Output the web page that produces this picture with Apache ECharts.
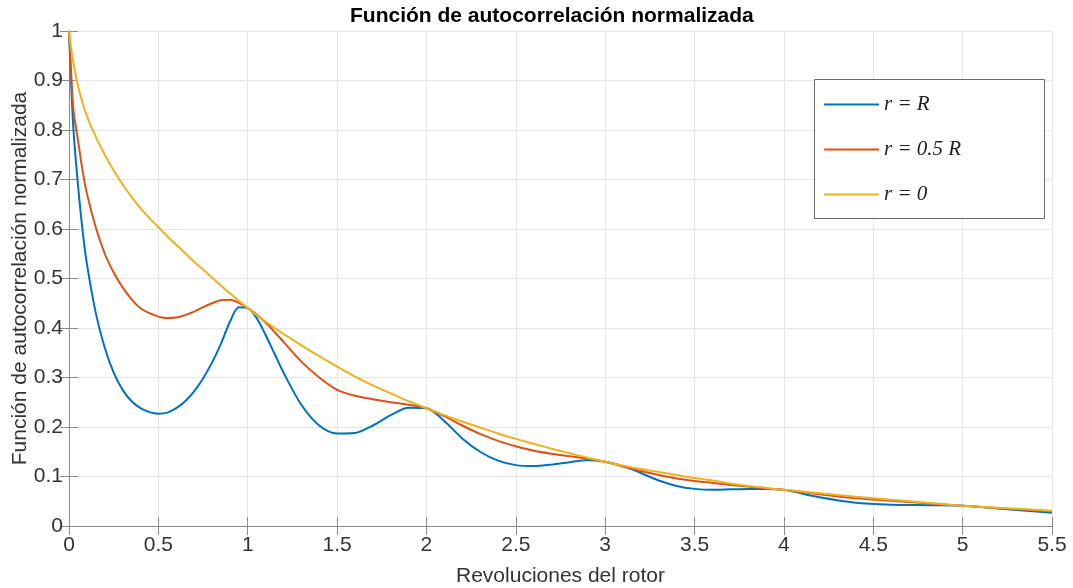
<!DOCTYPE html>
<html>
<head>
<meta charset="utf-8">
<title>Función de autocorrelación normalizada</title>
<script src="https://cdn.jsdelivr.net/npm/echarts@6/dist/echarts.min.js"></script>
<style>
  html, body { margin: 0; padding: 0; background: #fff; }
  #chart { width: 1073px; height: 588px; }
</style>
</head>
<body>
<div id="chart"></div>
<script>
// Revolutions of the rotor (shared abscissa for all curves)
const revs = [0, 0.01, 0.025, 0.05, 0.075, 0.1, 0.15, 0.2, 0.25, 0.3, 0.35, 0.4, 0.45, 0.5,
  0.55, 0.6, 0.65, 0.7, 0.75, 0.8, 0.85, 0.9, 0.95, 1.0, 1.05, 1.1, 1.15, 1.2, 1.3, 1.4,
  1.5, 1.6, 1.7, 1.8, 1.9, 2.0, 2.1, 2.2, 2.3, 2.4, 2.5, 2.6, 2.7, 2.8, 2.9, 3.0, 3.1,
  3.2, 3.3, 3.4, 3.5, 3.6, 3.7, 3.8, 3.9, 4.0, 4.2, 4.4, 4.6, 4.8, 5.0, 5.25, 5.5];

// r = R
const acfTip = [1, 0.91, 0.8, 0.69, 0.6, 0.53, 0.43, 0.36, 0.31, 0.275, 0.252, 0.238, 0.23, 0.227,
  0.229, 0.238, 0.252, 0.272, 0.298, 0.33, 0.368, 0.412, 0.442, 0.44, 0.42, 0.386, 0.348, 0.31, 0.245, 0.203,
  0.187, 0.188, 0.203, 0.224, 0.239, 0.238, 0.212, 0.177, 0.15, 0.132, 0.123, 0.121, 0.124, 0.129, 0.133, 0.13, 0.121,
  0.107, 0.092, 0.081, 0.075, 0.073, 0.074, 0.075, 0.075, 0.073, 0.058, 0.047, 0.043, 0.042, 0.041, 0.034, 0.027];

// r = 0.5 R
const acfMid = [1, 0.93, 0.84, 0.78, 0.72, 0.672, 0.603, 0.55, 0.512, 0.482, 0.458, 0.44, 0.43, 0.423,
  0.42, 0.421, 0.426, 0.433, 0.442, 0.45, 0.456, 0.457, 0.451, 0.44, 0.427, 0.411, 0.392, 0.372, 0.332, 0.3,
  0.275, 0.263, 0.256, 0.25, 0.245, 0.238, 0.222, 0.203, 0.186, 0.172, 0.161, 0.152, 0.146, 0.141, 0.136, 0.13, 0.12,
  0.111, 0.103, 0.096, 0.091, 0.087, 0.083, 0.08, 0.076, 0.073, 0.064, 0.056, 0.051, 0.046, 0.041, 0.035, 0.03];

// r = 0
const acfHub = [1, 0.97, 0.935, 0.89, 0.856, 0.828, 0.786, 0.75, 0.718, 0.69, 0.665, 0.642, 0.622, 0.604,
  0.585, 0.568, 0.551, 0.534, 0.518, 0.502, 0.486, 0.47, 0.455, 0.44, 0.426, 0.413, 0.4, 0.388, 0.365, 0.343,
  0.322, 0.302, 0.284, 0.268, 0.252, 0.238, 0.224, 0.211, 0.199, 0.187, 0.176, 0.166, 0.156, 0.147, 0.138, 0.13, 0.122,
  0.115, 0.109, 0.103, 0.097, 0.092, 0.086, 0.081, 0.077, 0.073, 0.066, 0.059, 0.053, 0.047, 0.041, 0.036, 0.031];

const seriesNames = ['r = R', 'r = 0.5 R', 'r = 0'];
const seriesColors = ['#0072BD', '#D95319', '#EDB120'];
const xTickStep = 0.5;
const yTickStep = 0.1;

const pairs = ys => revs.map((x, i) => [x, ys[i]]);

const axisGray = '#8a8a8a';
const labelColor = '#333333';
const gridGray = '#e6e6e6';
const sans = '"Liberation Sans", Arial, Helvetica, sans-serif';

const chart = echarts.init(document.getElementById('chart'), null, { renderer: 'canvas' });

const boxAxis = {
  axisLine: { show: true, lineStyle: { color: axisGray, width: 1 } },
  axisTick: { show: true, inside: true, length: 9, lineStyle: { color: axisGray } },
  axisLabel: { show: false },
  splitLine: { show: false }
};

chart.setOption({
  animation: false,
  backgroundColor: '#ffffff',
  title: {
    text: 'Función de autocorrelación normalizada',
    left: 345,
    top: 1,
    textStyle: { fontFamily: sans, fontSize: 21, fontWeight: 'bold', color: '#000' }
  },
  grid: { left: 69, right: 21, top: 31, bottom: 62, containLabel: false, outerBoundsMode: 'none' },
  graphic: [{
    type: 'rect',
    z: 3,
    shape: { x: 814.5, y: 79.5, width: 230, height: 139 },
    style: { fill: '#ffffff', stroke: '#6a6a6a', lineWidth: 1 }
  }],
  legend: {
    orient: 'vertical',
    left: 814,
    top: 79,
    padding: [15, 10, 15, 10],
    icon: 'rect',
    itemWidth: 55,
    itemHeight: 2,
    itemGap: 24,
    z: 5,
    data: seriesNames,
    textStyle: {
      fontFamily: '"Liberation Serif", "Times New Roman", serif',
      fontStyle: 'italic',
      fontSize: 21,
      lineHeight: 20,
      color: '#222'
    }
  },
  xAxis: [{
    type: 'value',
    min: 0,
    max: 5.5,
    interval: xTickStep,
    name: 'Revoluciones del rotor',
    nameLocation: 'middle',
    nameGap: 40,
    nameTextStyle: { fontFamily: sans, fontSize: 21, color: labelColor },
    axisLine: { show: true, lineStyle: { color: axisGray, width: 1 } },
    axisTick: { show: true, inside: true, length: 9, lineStyle: { color: axisGray } },
    axisLabel: { fontFamily: sans, fontSize: 21, color: labelColor, margin: 9 },
    splitLine: { show: true, lineStyle: { color: gridGray, width: 1 } }
  }, Object.assign({
    type: 'value', position: 'top', min: 0, max: 5.5, interval: xTickStep
  }, boxAxis)],
  yAxis: [{
    type: 'value',
    min: 0,
    max: 1,
    interval: yTickStep,
    name: 'Función de autocorrelación normalizada',
    nameLocation: 'middle',
    nameGap: 38,
    nameMoveOverlap: false,
    nameTextStyle: { fontFamily: sans, fontSize: 21, color: labelColor },
    axisLine: { show: true, lineStyle: { color: axisGray, width: 1 } },
    axisTick: { show: true, inside: true, length: 9, lineStyle: { color: axisGray } },
    axisLabel: { fontFamily: sans, fontSize: 21, color: labelColor, margin: 6 },
    splitLine: { show: true, lineStyle: { color: gridGray, width: 1 } }
  }, Object.assign({
    type: 'value', position: 'right', min: 0, max: 1, interval: yTickStep
  }, boxAxis)],
  series: [acfTip, acfMid, acfHub].map((ys, k) => ({
    name: seriesNames[k],
    type: 'line',
    data: pairs(ys),
    showSymbol: false,
    symbol: 'none',
    smooth: 0.3,
    clip: true,
    z: 2 + k,
    lineStyle: { color: seriesColors[k], width: 2 },
    itemStyle: { color: seriesColors[k] }
  }))
});
</script>
</body>
</html>
